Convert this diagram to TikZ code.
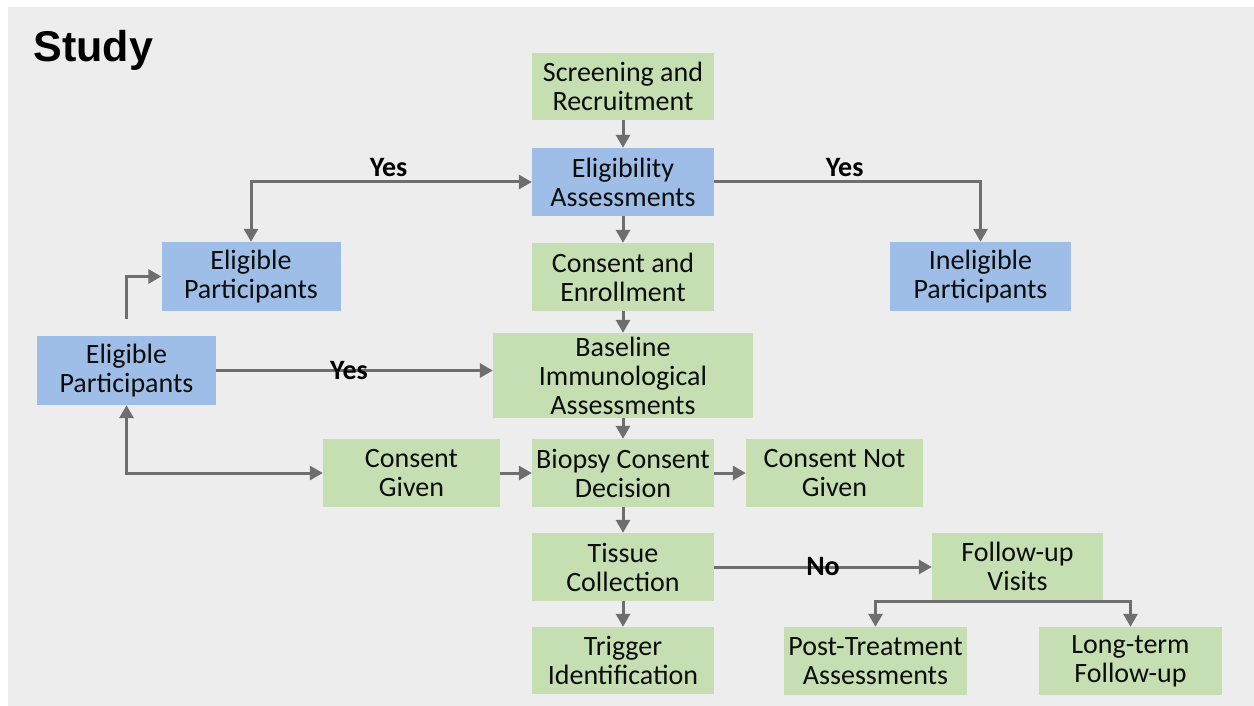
\documentclass[tikz,border=0pt]{standalone}
\usepackage{fontspec}
\setmainfont{Carlito}
\newfontfamily\titlefont{Liberation Sans}
\usepackage{tikz}
\usetikzlibrary{arrows.meta,positioning}

\definecolor{bgcol}{HTML}{EDEDED}
\definecolor{boxgreen}{HTML}{C5DFB3}
\definecolor{boxblue}{HTML}{9FBEE7}
\definecolor{linegray}{HTML}{6E6E6E}

\tikzset{
	box/.style={inner sep=0pt, align=center, text=black!95,
		font=\fontsize{28}{29}\selectfont},
	gbox/.style={box, fill=boxgreen},
	bbox/.style={box, fill=boxblue},
	conn/.style={draw=linegray, line width=3pt,
		-{Triangle[length=13pt,width=14pt]}},
	both/.style={{Triangle[length=13pt,width=14pt]}-{Triangle[length=13pt,width=14pt]}},
	lbl/.style={font=\bfseries\fontsize{28}{29}\selectfont, text=black}
}

\begin{document}
\begin{tikzpicture}[x=1pt,y=-1pt]
		\useasboundingbox (0,0) rectangle (1254,706);
		\fill[white] (0,0) rectangle (1254,706);
		\fill[bgcol] (8,7) rectangle (1254,706);

		\node[anchor=base west, font=\titlefont\bfseries\fontsize{43}{45}\selectfont] (title) at (30,62) {Study};

		% middle column
		\node[gbox, minimum width=182pt, minimum height=67pt] (screen) at (623,86.5) {Screening and\\Recruitment};
		\node[bbox, minimum width=182pt, minimum height=68pt] (elig) at (623,182) {Eligibility\\Assessments};
		\node[gbox, minimum width=182pt, minimum height=68pt] (enrol) at (623,277) {Consent and\\Enrollment};
		\node[gbox, minimum width=260pt, minimum height=85pt] (base) at (623,375.5) {Baseline\\Immunological\\Assessments};
		\node[gbox, minimum width=182pt, minimum height=68pt] (biopsy) at (623,473) {Biopsy Consent\\Decision};
		\node[gbox, minimum width=182pt, minimum height=68pt] (tissue) at (623,567) {Tissue\\Collection};
		\node[gbox, minimum width=182pt, minimum height=67pt] (trigger) at (623,660.5) {Trigger\\Identification};

		% left side
		\node[bbox, minimum width=179pt, minimum height=69pt] (elig1) at (251,276.5) {Eligible\\Participants};
		\node[bbox, minimum width=179pt, minimum height=69pt] (elig2) at (126.5,370.5) {Eligible\\Participants};
		\node[gbox, minimum width=177pt, minimum height=68pt] (given) at (411.5,473) {Consent\\Given};

		% right side
		\node[bbox, minimum width=181pt, minimum height=69pt] (inelig) at (980.5,276.5) {Ineligible\\Participants};
		\node[gbox, minimum width=177pt, minimum height=68pt] (notgiven) at (834.5,473) {Consent Not\\Given};
		\node[gbox, minimum width=171pt, minimum height=67pt] (follow) at (1017.5,566.5) {Follow-up\\Visits};
		\node[gbox, minimum width=183pt, minimum height=68pt] (post) at (875.5,661) {Post-Treatment\\Assessments};
		\node[gbox, minimum width=183pt, minimum height=68pt] (longterm) at (1130.5,661) {Long-term\\Follow-up};

		% connectors
		\draw[conn] (screen) -- (elig);
		\draw[conn] (elig) -- (enrol);
		\draw[conn] (enrol) -- (base);
		\draw[conn] (base) -- (biopsy);
		\draw[conn] (biopsy) -- (tissue);
		\draw[conn] (tissue) -- (trigger);
		\draw[conn] (biopsy) -- (notgiven);
		\draw[conn] (given) -- (biopsy);
		\draw[conn, both] (elig1.north) |- node[lbl, above, pos=0.745] (yes1) {Yes} (elig.west);
		\draw[conn] (elig.east) -| node[lbl, above, pos=0.245] (yes2) {Yes} (inelig.north);
		\draw[conn] ([yshift=17pt]elig2.north) |- (elig1.west);
		\draw[conn] (elig2.east) -- node[lbl, pos=0.48] (yes3) {Yes} (elig2.east -| base.west);
		\draw[conn, both] (given.west) -| (elig2.south);
		\draw[conn] (tissue.east) -- node[lbl] (no1) {No} (tissue.east -| follow.west);
		\draw[conn] ([yshift=-1.5pt]follow.south) -| (post.north);
		\draw[conn] ([yshift=-1.5pt]follow.south) -| (longterm.north);
	\end{tikzpicture}
\end{document}
